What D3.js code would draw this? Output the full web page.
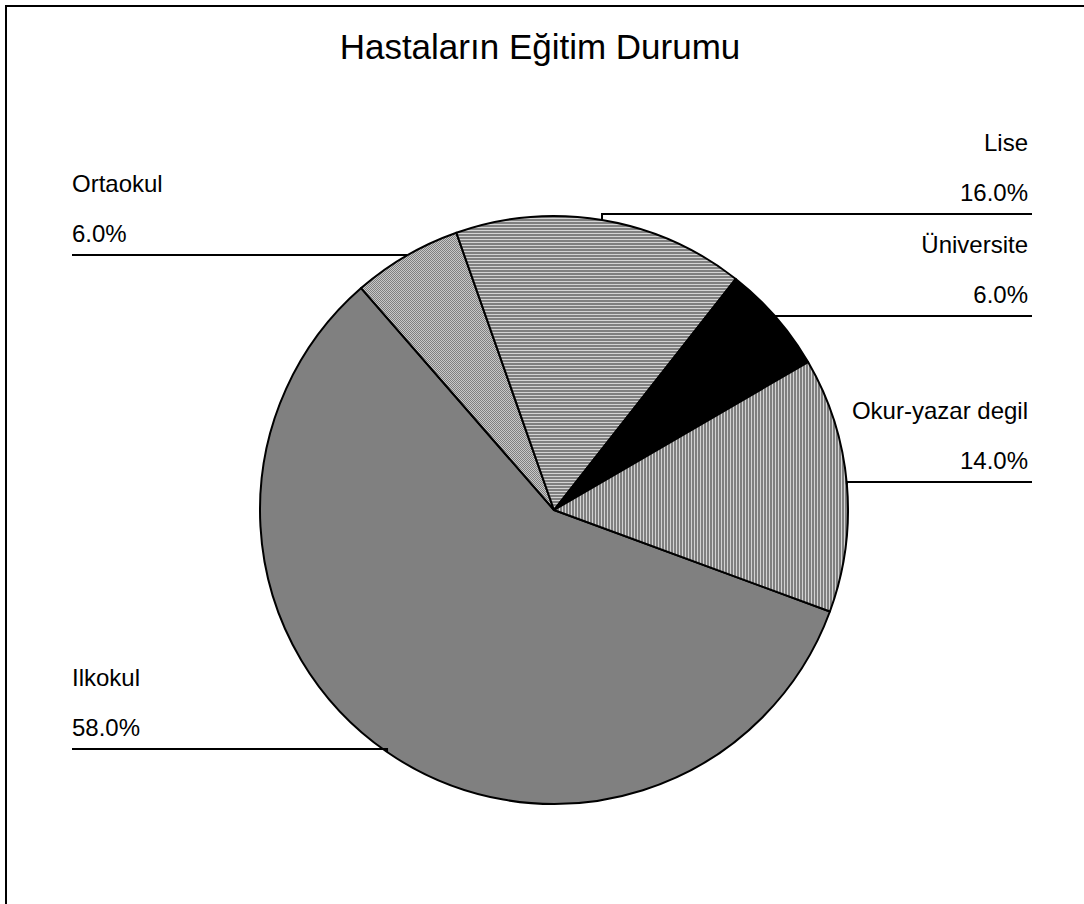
<!DOCTYPE html>
<html>
<head>
<meta charset="utf-8">
<script src="https://cdn.jsdelivr.net/npm/d3@7"></script>
<style>
  html, body { margin: 0; padding: 0; background: #fff; }
  svg { display: block; }
  text { font-family: "Liberation Sans", Arial, sans-serif; fill: #000; }
</style>
</head>
<body>
<svg id="chart" width="1084" height="904"></svg>
<script>
// ---- data ----
const title = "Hastaların Eğitim Durumu";
const categories = ["Ilkokul", "Ortaokul", "Lise", "Üniversite", "Okur-yazar degil"];
const values = [58, 6, 16, 6, 14];
const percentLabels = ["58.0%", "6.0%", "16.0%", "6.0%", "14.0%"];

// ---- layout ----
const W = 1084, H = 904;
const cx = 554, cy = 510, R = 294;
const startDeg = 110.2;
const fills = ["#808080", "url(#pCheck)", "url(#pHoriz)", "#000000", "url(#pVert)"];
// label placement: side, label-line y
const labelLayout = [
  { side: "left",  lineY: 749 },
  { side: "left",  lineY: 255 },
  { side: "right", lineY: 214 },
  { side: "right", lineY: 316 },
  { side: "right", lineY: 482 }
];

const svg = d3.select("#chart");
const defs = svg.append("defs");

// checker pattern
const pc = defs.append("pattern").attr("id", "pCheck").attr("patternUnits", "userSpaceOnUse")
  .attr("width", 2).attr("height", 2);
pc.append("rect").attr("width", 2).attr("height", 2).attr("fill", "#c8c8c8");
pc.append("rect").attr("x", 0).attr("y", 0).attr("width", 1).attr("height", 1).attr("fill", "#808080");
pc.append("rect").attr("x", 1).attr("y", 1).attr("width", 1).attr("height", 1).attr("fill", "#808080");

// horizontal stripes
const ph = defs.append("pattern").attr("id", "pHoriz").attr("patternUnits", "userSpaceOnUse")
  .attr("width", 3).attr("height", 3);
ph.append("rect").attr("width", 3).attr("height", 3).attr("fill", "#808080");
ph.append("rect").attr("x", 0).attr("y", 2).attr("width", 3).attr("height", 1).attr("fill", "#d4d4d4");

// vertical stripes
const pv = defs.append("pattern").attr("id", "pVert").attr("patternUnits", "userSpaceOnUse")
  .attr("width", 3).attr("height", 3);
pv.append("rect").attr("width", 3).attr("height", 3).attr("fill", "#808080");
pv.append("rect").attr("x", 2).attr("y", 0).attr("width", 1).attr("height", 3).attr("fill", "#d4d4d4");

// frame (open at right and bottom)
svg.append("rect").attr("x", 6).attr("y", 6).attr("width", 1200).attr("height", 1200)
  .attr("fill", "none").attr("stroke", "#000").attr("stroke-width", 2);

// title
svg.append("text").attr("x", 540).attr("y", 59).attr("text-anchor", "middle")
  .attr("font-size", 35).text(title);

const data = categories.map((c, i) => ({ cat: c, value: values[i], pct: percentLabels[i], i }));
const pie = d3.pie().value(d => d.value).sort(null)
  .startAngle(startDeg * Math.PI / 180).endAngle(startDeg * Math.PI / 180 + 2 * Math.PI);
const arcs = pie(data);
const arc = d3.arc().innerRadius(0).outerRadius(R);

const g = svg.append("g").attr("transform", `translate(${cx},${cy})`);
g.selectAll("path.slice").data(arcs).join("path")
  .attr("class", "slice")
  .attr("d", arc)
  .attr("fill", d => fills[d.data.i])
  .attr("stroke", "#000").attr("stroke-width", 2).attr("stroke-linejoin", "round");

// labels and leader lines
const leftX = 72, rightX = 1030;
arcs.forEach(a => {
  const L = labelLayout[a.data.i];
  const mid = (a.startAngle + a.endAngle) / 2;
  const px = cx + R * Math.sin(mid), py = cy - R * Math.cos(mid);
  const outerX = L.side === "left" ? leftX : rightX + 2;
  const textX = L.side === "left" ? leftX : rightX - 2;
  const anchor = L.side === "left" ? "start" : "end";
  svg.append("path")
    .attr("d", d3.line()([[outerX, L.lineY], [px, L.lineY], [px, py]]))
    .attr("fill", "none").attr("stroke", "#000").attr("stroke-width", 2);
  svg.append("text").attr("x", textX).attr("y", L.lineY - 13)
    .attr("text-anchor", anchor).attr("font-size", 24).text(a.data.pct);
  svg.append("text").attr("x", textX).attr("y", L.lineY - 63)
    .attr("text-anchor", anchor).attr("font-size", 24).text(a.data.cat);
});
</script>
</body>
</html>
